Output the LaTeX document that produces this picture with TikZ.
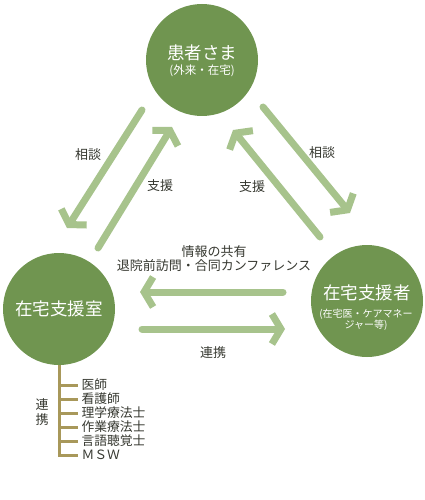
\documentclass[tikz,border=0pt]{standalone}
\usepackage{fontspec}
\setmainfont{Noto Sans CJK JP}
\usetikzlibrary{arrows.meta,positioning}
\definecolor{circlegreen}{HTML}{709550}
\definecolor{arrowgreen}{HTML}{A7C38C}
\definecolor{treeline}{HTML}{A8985A}
\definecolor{textgray}{HTML}{363830}
\tikzset{
  party/.style={circle, fill=circlegreen, minimum size=112pt, inner sep=0pt},
  partyname/.style={text=white, font=\fontsize{17.5}{20}\selectfont},
  partynote/.style={text=white, align=center, font=\fontsize{10}{11}\selectfont},
  flow/.style={arrowgreen, line width=7pt, line cap=round,
    -{Straight Barb[length=9pt,width=30pt,line width=7pt]}},
  lbl/.style={text=textgray, font=\fontsize{13}{15}\selectfont},
  branch/.style={treeline, line width=3pt},
}
\begin{document}
\begin{tikzpicture}[x=1pt,y=-1pt]
  \useasboundingbox (0,0) rectangle (424,500);

  % the three parties
  \node[party] (patient) at (202,60) {};
  \node[party] (office) at (59,309) {};
  \node[party] (carer) at (367,301) {};
  \node[partyname] (patientname) at (202,53) {患者さま};
  \node[partynote, font=\fontsize{11.5}{12}\selectfont] (patientnote) at (202,71) {(外来・在宅)};
  \node[partyname] (officename) at (59,309) {在宅支援室};
  \node[partyname] (carername) at (367,293) {在宅支援者};
  \node[partynote] (carernote) at (366,320) {(在宅医・ケアマネー\\ジャー等)};

  % arrow ends
  \coordinate (askLs) at (142,110);  \coordinate (askLe) at (67,228);
  \coordinate (helpLs) at (98,248);  \coordinate (helpLe) at (172,127);
  \coordinate (askRs) at (263,107);  \coordinate (askRe) at (350,213);
  \coordinate (helpRs) at (320,237); \coordinate (helpRe) at (233,130);
  \coordinate (shareS) at (283,292); \coordinate (shareE) at (140,292);
  \coordinate (linkS) at (142,329);  \coordinate (linkE) at (285,329);

  \draw[flow] (askLs) -- (askLe);
  \draw[flow] (helpLs) -- (helpLe);
  \draw[flow] (askRs) -- (askRe);
  \draw[flow] (helpRs) -- (helpRe);
  \draw[flow] (shareS) -- (shareE);
  \draw[flow] (linkS) -- (linkE);

  \node[lbl] (askL) at (88,155) {相談};
  \node[lbl] (helpL) at (160,186) {支援};
  \node[lbl] (askR) at (322,153) {相談};
  \node[lbl] (helpR) at (252,187) {支援};
  \node[lbl] (share) at (214,252) {情報の共有};
  \node[lbl] (conf) at (214,266) {退院前訪問・合同カンファレンス};
  \node[lbl] (link) at (213,353) {連携};

  % staff tree
  \node[lbl, align=center] (staff) at (42,412) {連\\携};
  \foreach \t [count=\i] in {医師,看護師,理学療法士,作業療法士,言語聴覚士,ＭＳＷ}
    \node[lbl, anchor=west, font=\fontsize{12.8}{14}\selectfont] (role\i) at (78,371+14*\i) {\t};
  \draw[branch] (office.south) -- (office.south |- role6.west) -- (role6.west);
  \foreach \i in {1,...,5}
    \draw[branch] (office.south |- role\i.west) -- (role\i.west);
\end{tikzpicture}
\end{document}
